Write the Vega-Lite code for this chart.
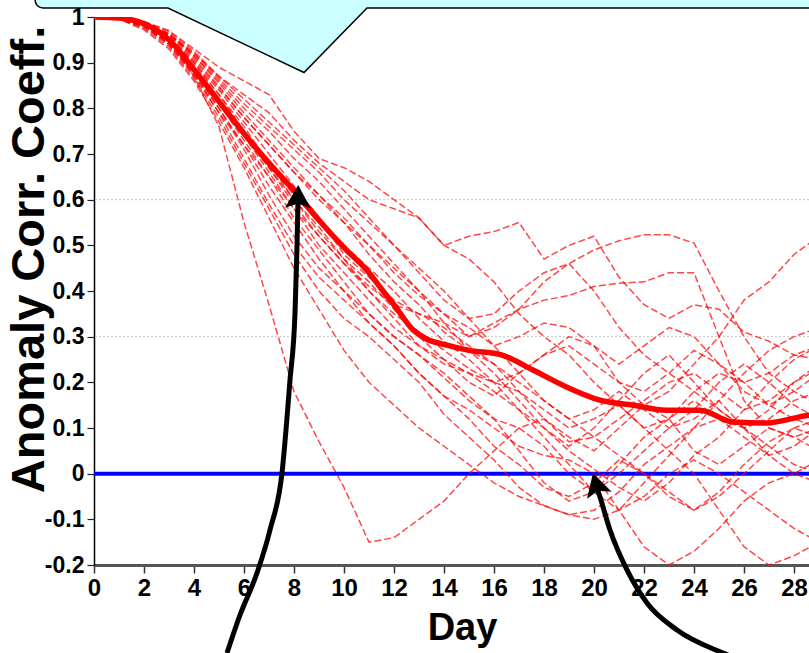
{
  "$schema": "https://vega.github.io/schema/vega-lite/v6.json",
  "width": 715,
  "height": 548,
  "autosize": {"type": "none"},
  "padding": {"left": 94, "top": 17, "right": 0, "bottom": 88},
  "background": "white",
  "config": {"view": {"stroke": null}, "font": "Liberation Sans"},
  "datasets": {
    "members": [
      {"member": "m1", "day": [0,1,2,3,4,5,6,7,8,9,10,11,12,13,14,15,16,17,18,19,20,21,22,23,24,25,26,27,28,29], "acc": [1,0.998,0.985,0.95,0.87,0.76,0.55,0.37,0.18,0.07,-0.03,-0.15,-0.14,-0.1,-0.06,0.0,0.05,0.1,0.12,0.08,0.05,0.1,0.15,0.12,0.05,0.02,0.06,0.1,0.08,0.05]},
      {"member": "m2", "day": [0,1,2,3,4,5,6,7,8,9,10,11,12,13,14,15,16,17,18,19,20,21,22,23,24,25,26,27,28,29], "acc": [1,0.999,0.99,0.97,0.93,0.89,0.86,0.83,0.75,0.69,0.67,0.64,0.6,0.56,0.5,0.47,0.42,0.35,0.3,0.26,0.2,0.15,0.1,0.12,0.18,0.22,0.2,0.15,0.12,0.1]},
      {"member": "m3", "day": [0,1,2,3,4,5,6,7,8,9,10,11,12,13,14,15,16,17,18,19,20,21,22,23,24,25,26,27,28,29], "acc": [1,0.998,0.987,0.963,0.92,0.87,0.83,0.79,0.73,0.68,0.64,0.6,0.58,0.56,0.5,0.52,0.53,0.55,0.47,0.5,0.52,0.43,0.37,0.34,0.37,0.36,0.31,0.29,0.26,0.25]},
      {"member": "m4", "day": [0,1,2,3,4,5,6,7,8,9,10,11,12,13,14,15,16,17,18,19,20,21,22,23,24,25,26,27,28,29], "acc": [1,0.997,0.98,0.95,0.89,0.82,0.74,0.66,0.58,0.5,0.44,0.38,0.32,0.28,0.25,0.2,0.17,0.22,0.26,0.3,0.28,0.2,0.15,0.18,0.24,0.3,0.38,0.42,0.48,0.52]},
      {"member": "m5", "day": [0,1,2,3,4,5,6,7,8,9,10,11,12,13,14,15,16,17,18,19,20,21,22,23,24,25,26,27,28,29], "acc": [1,0.998,0.986,0.958,0.905,0.845,0.78,0.72,0.66,0.6,0.55,0.5,0.45,0.4,0.35,0.3,0.32,0.36,0.42,0.46,0.49,0.51,0.523,0.523,0.505,0.4,0.3,0.22,0.18,0.15]},
      {"member": "m6", "day": [0,1,2,3,4,5,6,7,8,9,10,11,12,13,14,15,16,17,18,19,20,21,22,23,24,25,26,27,28,29], "acc": [1,0.996,0.98,0.94,0.87,0.79,0.72,0.65,0.58,0.52,0.46,0.41,0.37,0.35,0.33,0.3,0.33,0.36,0.38,0.39,0.41,0.417,0.42,0.44,0.44,0.3,0.16,0.1,0.08,0.1]},
      {"member": "m7", "day": [0,1,2,3,4,5,6,7,8,9,10,11,12,13,14,15,16,17,18,19,20,21,22,23,24,25,26,27,28,29], "acc": [1,0.997,0.98,0.945,0.88,0.8,0.72,0.63,0.55,0.47,0.4,0.33,0.28,0.22,0.17,0.14,0.1,0.06,0.04,0.03,0.0,-0.08,-0.16,-0.2,-0.17,-0.12,-0.06,-0.02,0.0,0.03]},
      {"member": "m8", "day": [0,1,2,3,4,5,6,7,8,9,10,11,12,13,14,15,16,17,18,19,20,21,22,23,24,25,26,27,28,29], "acc": [1,0.998,0.985,0.955,0.9,0.83,0.75,0.68,0.6,0.54,0.47,0.42,0.36,0.3,0.25,0.22,0.2,0.18,0.14,0.1,0.12,0.15,0.1,0.05,0.0,-0.08,-0.16,-0.2,-0.18,-0.15]},
      {"member": "m9", "day": [0,1,2,3,4,5,6,7,8,9,10,11,12,13,14,15,16,17,18,19,20,21,22,23,24,25,26,27,28,29], "acc": [1,0.996,0.975,0.935,0.865,0.78,0.68,0.58,0.48,0.4,0.34,0.3,0.25,0.2,0.13,0.08,0.03,-0.03,-0.07,-0.09,-0.08,-0.04,0.02,0.06,0.1,0.12,0.08,0.04,0.06,0.1]},
      {"member": "m10", "day": [0,1,2,3,4,5,6,7,8,9,10,11,12,13,14,15,16,17,18,19,20,21,22,23,24,25,26,27,28,29], "acc": [1,0.997,0.98,0.95,0.89,0.81,0.73,0.65,0.56,0.49,0.42,0.35,0.3,0.26,0.22,0.17,0.12,0.05,-0.02,-0.06,-0.04,0.02,0.08,0.12,0.16,0.12,0.1,0.14,0.2,0.24]},
      {"member": "m11", "day": [0,1,2,3,4,5,6,7,8,9,10,11,12,13,14,15,16,17,18,19,20,21,22,23,24,25,26,27,28,29], "acc": [1,0.998,0.987,0.962,0.915,0.855,0.79,0.73,0.67,0.61,0.55,0.48,0.42,0.37,0.31,0.27,0.24,0.2,0.16,0.12,0.08,0.04,0.0,-0.04,-0.08,-0.05,0.0,0.05,0.1,0.12]},
      {"member": "m12", "day": [0,1,2,3,4,5,6,7,8,9,10,11,12,13,14,15,16,17,18,19,20,21,22,23,24,25,26,27,28,29], "acc": [1,0.997,0.982,0.95,0.89,0.82,0.75,0.67,0.59,0.52,0.46,0.4,0.35,0.31,0.27,0.23,0.2,0.22,0.26,0.28,0.24,0.2,0.18,0.22,0.27,0.24,0.18,0.15,0.18,0.22]},
      {"member": "m13", "day": [0,1,2,3,4,5,6,7,8,9,10,11,12,13,14,15,16,17,18,19,20,21,22,23,24,25,26,27,28,29], "acc": [1,0.999,0.99,0.968,0.925,0.87,0.82,0.77,0.72,0.67,0.62,0.56,0.5,0.44,0.38,0.34,0.35,0.4,0.44,0.46,0.4,0.32,0.26,0.22,0.18,0.14,0.1,0.06,0.02,0.0]},
      {"member": "m14", "day": [0,1,2,3,4,5,6,7,8,9,10,11,12,13,14,15,16,17,18,19,20,21,22,23,24,25,26,27,28,29], "acc": [1,0.996,0.978,0.94,0.875,0.79,0.69,0.59,0.5,0.43,0.38,0.33,0.28,0.22,0.17,0.12,0.06,0.02,-0.03,-0.05,-0.02,0.03,0.0,-0.05,-0.08,-0.04,0.02,0.07,0.1,0.08]},
      {"member": "m15", "day": [0,1,2,3,4,5,6,7,8,9,10,11,12,13,14,15,16,17,18,19,20,21,22,23,24,25,26,27,28,29], "acc": [1,0.998,0.985,0.955,0.9,0.84,0.77,0.7,0.63,0.56,0.48,0.43,0.38,0.35,0.32,0.28,0.24,0.18,0.12,0.07,0.08,0.12,0.16,0.2,0.22,0.18,0.14,0.16,0.2,0.23]},
      {"member": "m16", "day": [0,1,2,3,4,5,6,7,8,9,10,11,12,13,14,15,16,17,18,19,20,21,22,23,24,25,26,27,28,29], "acc": [1,0.997,0.98,0.945,0.88,0.81,0.74,0.67,0.6,0.53,0.47,0.4,0.34,0.28,0.24,0.22,0.18,0.14,0.1,0.05,0.01,-0.03,-0.06,-0.02,0.04,0.08,0.14,0.2,0.25,0.28]},
      {"member": "m17", "day": [0,1,2,3,4,5,6,7,8,9,10,11,12,13,14,15,16,17,18,19,20,21,22,23,24,25,26,27,28,29], "acc": [1,0.998,0.987,0.962,0.915,0.86,0.8,0.75,0.69,0.64,0.58,0.52,0.46,0.4,0.33,0.27,0.22,0.16,0.1,0.06,0.1,0.16,0.22,0.26,0.2,0.14,0.1,0.12,0.16,0.18]},
      {"member": "m18", "day": [0,1,2,3,4,5,6,7,8,9,10,11,12,13,14,15,16,17,18,19,20,21,22,23,24,25,26,27,28,29], "acc": [1,0.997,0.983,0.95,0.895,0.83,0.76,0.68,0.61,0.55,0.5,0.45,0.4,0.34,0.29,0.25,0.2,0.14,0.08,0.02,-0.04,-0.08,-0.05,0.0,0.03,0.0,-0.04,-0.08,-0.12,-0.15]},
      {"member": "m19", "day": [0,1,2,3,4,5,6,7,8,9,10,11,12,13,14,15,16,17,18,19,20,21,22,23,24,25,26,27,28,29], "acc": [1,0.998,0.988,0.964,0.92,0.865,0.81,0.76,0.71,0.66,0.6,0.55,0.5,0.45,0.4,0.34,0.28,0.3,0.33,0.32,0.28,0.24,0.28,0.32,0.3,0.24,0.2,0.22,0.26,0.28]},
      {"member": "m20", "day": [0,1,2,3,4,5,6,7,8,9,10,11,12,13,14,15,16,17,18,19,20,21,22,23,24,25,26,27,28,29], "acc": [1,0.995,0.972,0.93,0.86,0.77,0.67,0.56,0.45,0.36,0.27,0.2,0.15,0.1,0.06,0.02,-0.02,-0.05,-0.07,-0.09,-0.1,-0.08,-0.02,0.04,0.1,0.16,0.22,0.27,0.3,0.32]},
      {"member": "m21", "day": [0,1,2,3,4,5,6,7,8,9,10,11,12,13,14,15,16,17,18,19,20,21,22,23,24,25,26,27,28,29], "acc": [1,0.998,0.986,0.96,0.91,0.848,0.78,0.72,0.66,0.61,0.56,0.5,0.44,0.39,0.35,0.32,0.28,0.22,0.16,0.12,0.14,0.18,0.14,0.1,0.12,0.16,0.1,0.04,0.0,-0.02]},
      {"member": "m22", "day": [0,1,2,3,4,5,6,7,8,9,10,11,12,13,14,15,16,17,18,19,20,21,22,23,24,25,26,27,28,29], "acc": [1,0.997,0.98,0.94,0.875,0.8,0.71,0.61,0.52,0.45,0.4,0.35,0.3,0.26,0.21,0.16,0.12,0.1,0.06,0.0,-0.04,0.0,0.05,0.1,0.14,0.2,0.24,0.2,0.15,0.12]}
    ],
    "mean": [
      {"day": 0, "acc": 1.0}, {"day": 1, "acc": 0.998}, {"day": 2, "acc": 0.985}, {"day": 3, "acc": 0.95},
      {"day": 4, "acc": 0.885}, {"day": 5, "acc": 0.815}, {"day": 6, "acc": 0.745}, {"day": 7, "acc": 0.68},
      {"day": 8, "acc": 0.62}, {"day": 9, "acc": 0.555}, {"day": 10, "acc": 0.495}, {"day": 11, "acc": 0.44},
      {"day": 11.56, "acc": 0.4}, {"day": 12, "acc": 0.37}, {"day": 12.76, "acc": 0.315}, {"day": 13.3, "acc": 0.295},
      {"day": 14, "acc": 0.283}, {"day": 15, "acc": 0.27}, {"day": 16.3, "acc": 0.26}, {"day": 17.56, "acc": 0.227},
      {"day": 18.9, "acc": 0.19}, {"day": 20.24, "acc": 0.161}, {"day": 21.56, "acc": 0.15}, {"day": 22.9, "acc": 0.139},
      {"day": 24.24, "acc": 0.139}, {"day": 25.56, "acc": 0.113}, {"day": 26.9, "acc": 0.111}, {"day": 28.6, "acc": 0.128},
      {"day": 29, "acc": 0.13}
    ],
    "grid": [{"acc": 0.3}, {"acc": 0.6}],
    "zero": [{"acc": 0}],
    "callout": [
      {"day": -2.36, "acc": 1.0394, "top": 1.08},
      {"day": -2.34, "acc": 1.0318, "top": 1.08},
      {"day": -2.28, "acc": 1.0258, "top": 1.08},
      {"day": -2.18, "acc": 1.0215, "top": 1.08},
      {"day": -2.04, "acc": 1.0197, "top": 1.08},
      {"day": 2.96, "acc": 1.0197, "top": 1.08},
      {"day": 8.4, "acc": 0.8785, "top": 1.08},
      {"day": 10.92, "acc": 1.0197, "top": 1.08},
      {"day": 31, "acc": 1.0197, "top": 1.08}
    ],
    "arrows": [
      {"arrow": "a1", "day": 5.32, "acc": -0.3927},
      {"arrow": "a1", "day": 5.84, "acc": -0.3095},
      {"arrow": "a1", "day": 6.52, "acc": -0.2175},
      {"arrow": "a1", "day": 7.04, "acc": -0.1233},
      {"arrow": "a1", "day": 7.52, "acc": 0.0015},
      {"arrow": "a1", "day": 7.84, "acc": 0.2051},
      {"arrow": "a1", "day": 8.04, "acc": 0.3518},
      {"arrow": "a1", "day": 8.12, "acc": 0.4964},
      {"arrow": "a1", "day": 8.16, "acc": 0.599},
      {"arrow": "a2", "day": 20.08, "acc": -0.0248},
      {"arrow": "a2", "day": 20.24, "acc": -0.0511},
      {"arrow": "a2", "day": 20.64, "acc": -0.1233},
      {"arrow": "a2", "day": 21.32, "acc": -0.2109},
      {"arrow": "a2", "day": 22.12, "acc": -0.2832},
      {"arrow": "a2", "day": 23.32, "acc": -0.3423},
      {"arrow": "a2", "day": 25.16, "acc": -0.3927},
      {"arrow": "a2", "day": 25.84, "acc": -0.408}
    ],
    "heads": [
      {"arrow": "a1", "day": 8.16, "acc": 0.604, "angle": 1},
      {"arrow": "a2", "day": 20.1, "acc": -0.0255, "angle": -16}
    ]
  },
  "layer": [
    {
      "data": {"name": "grid"},
      "mark": {"type": "rule", "stroke": "#c4c4c4", "strokeWidth": 1, "strokeDash": [2, 2]},
      "encoding": {
        "y": {"field": "acc", "type": "quantitative", "scale": {"domain": [-0.2, 1], "nice": false, "zero": false}}
      }
    },
    {
      "data": {"name": "zero"},
      "mark": {"type": "rule", "stroke": "#0000ff", "strokeWidth": 4},
      "encoding": {
        "y": {"field": "acc", "type": "quantitative", "scale": {"domain": [-0.2, 1], "nice": false, "zero": false}}
      }
    },
    {
      "data": {"name": "members"},
      "transform": [{"flatten": ["day", "acc"]}],
      "mark": {"type": "line", "clip": true, "stroke": "#ff0000", "strokeWidth": 1.5, "strokeDash": [7, 3], "opacity": 0.72},
      "encoding": {
        "x": {
          "field": "day", "type": "quantitative",
          "scale": {"domain": [0, 28.6], "nice": false, "zero": false},
          "axis": {
            "title": "Day",
            "values": [0,1,2,3,4,5,6,7,8,9,10,11,12,13,14,15,16,17,18,19,20,21,22,23,24,25,26,27,28],
            "labelExpr": "datum.value % 2 == 0 ? datum.label : ''",
            "labelFont": "Liberation Sans",
            "labelFontWeight": "bold", "labelFontSize": 24, "labelColor": "#000",
            "labelPadding": 3, "labelFlush": false, "labelOverlap": false,
            "tickColor": "#333", "tickWidth": 1.5,
            "tickSize": {"condition": {"test": "datum.value % 2 == 0", "value": 8}, "value": 5},
            "domainColor": "#555", "domainWidth": 3, "grid": false,
            "titleFont": "Liberation Sans",
            "titleFontWeight": "bold", "titleFontSize": 38, "titleColor": "#000",
            "titleX": 368, "titleY": 63, "titleBaseline": "middle", "titleAlign": "center"
          }
        },
        "y": {
          "field": "acc", "type": "quantitative",
          "scale": {"domain": [-0.2, 1], "nice": false, "zero": false},
          "axis": {
            "title": "Anomaly Corr. Coeff.",
            "values": [-0.2,-0.15,-0.1,-0.05,0,0.05,0.1,0.15,0.2,0.25,0.3,0.35,0.4,0.45,0.5,0.55,0.6,0.65,0.7,0.75,0.8,0.85,0.9,0.95,1],
            "labelExpr": "round(datum.value*100) % 10 == 0 ? replace(format(datum.value, '~g'), '\u2212', '-') : ''",
            "labelFont": "Liberation Sans",
            "labelFontWeight": "bold", "labelFontSize": 23, "labelColor": "#000",
            "labelPadding": 3, "labelFlush": false, "labelOverlap": false,
            "tickColor": "#222", "tickWidth": 1.2,
            "tickSize": {"condition": {"test": "round(datum.value*100) % 10 == 0", "value": 7}, "value": 4},
            "domainColor": "#000", "domainWidth": 1.5, "grid": false,
            "titleFont": "Liberation Sans", "titleFontWeight": "bold", "titleFontSize": 47, "titleColor": "#000",
            "titleAngle": -90, "titleX": -65, "titleY": 242, "titleAlign": "center", "titleBaseline": "middle"
          }
        },
        "detail": {"field": "member", "type": "nominal"}
      }
    },
    {
      "data": {"name": "mean"},
      "mark": {"type": "line", "clip": true, "stroke": "#ff0000", "strokeWidth": 5.5, "interpolate": "monotone"},
      "encoding": {
        "x": {"field": "day", "type": "quantitative", "scale": {"domain": [0, 28.6], "nice": false, "zero": false}},
        "y": {"field": "acc", "type": "quantitative", "scale": {"domain": [-0.2, 1], "nice": false, "zero": false}}
      }
    },
    {
      "data": {"name": "callout"},
      "mark": {"type": "area", "clip": false, "fill": "#ccffff", "stroke": "#000", "strokeWidth": 1.5, "orient": "vertical"},
      "encoding": {
        "x": {"field": "day", "type": "quantitative", "scale": {"domain": [0, 28.6], "nice": false, "zero": false}},
        "y": {"field": "acc", "type": "quantitative", "scale": {"domain": [-0.2, 1], "nice": false, "zero": false}},
        "y2": {"field": "top"}
      }
    },
    {
      "data": {"name": "arrows"},
      "mark": {"type": "line", "clip": false, "stroke": "#000", "strokeWidth": 5, "interpolate": "monotone"},
      "encoding": {
        "x": {"field": "day", "type": "quantitative", "scale": {"domain": [0, 28.6], "nice": false, "zero": false}},
        "y": {"field": "acc", "type": "quantitative", "scale": {"domain": [-0.2, 1], "nice": false, "zero": false}},
        "detail": {"field": "arrow", "type": "nominal"}
      }
    },
    {
      "data": {"name": "heads"},
      "mark": {"type": "point", "clip": false, "filled": true, "fill": "#000", "stroke": null, "opacity": 1,
               "shape": "M0,-1 L1,0.8 L0,0.45 L-1,0.8 Z", "size": 655},
      "encoding": {
        "x": {"field": "day", "type": "quantitative", "scale": {"domain": [0, 28.6], "nice": false, "zero": false}},
        "y": {"field": "acc", "type": "quantitative", "scale": {"domain": [-0.2, 1], "nice": false, "zero": false}},
        "angle": {"field": "angle", "type": "quantitative", "scale": null}
      }
    }
  ]
}
